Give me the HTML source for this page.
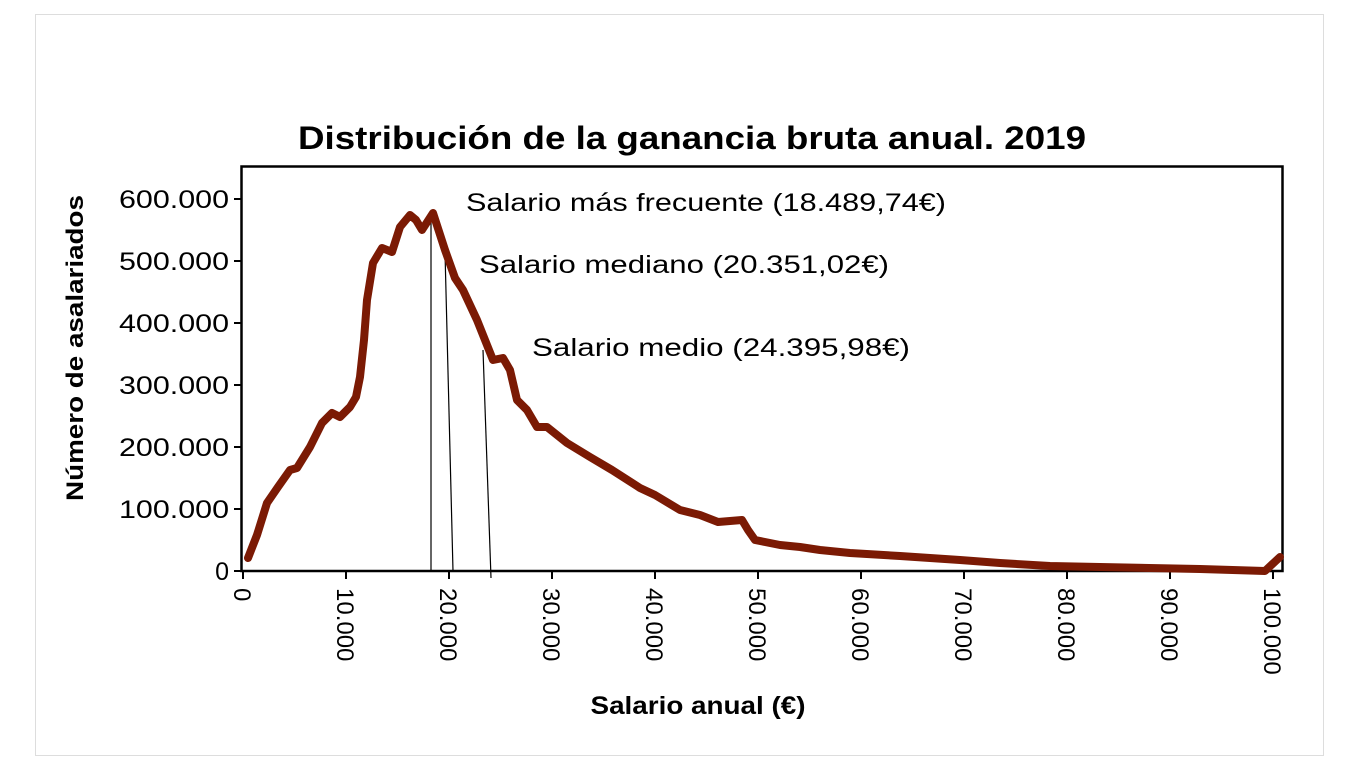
<!DOCTYPE html>
<html><head><meta charset="utf-8"><style>
body{margin:0;background:#fff;}
svg{display:block;font-family:"Liberation Sans",sans-serif;}
</style></head><body>
<svg width="1366" height="782" viewBox="0 0 1366 782">
<rect x="35.5" y="14.5" width="1288" height="741" fill="#fff" stroke="#ddd" stroke-width="1"/>
<text x="692" y="149" text-anchor="middle" font-size="32" font-weight="bold" textLength="788" lengthAdjust="spacingAndGlyphs">Distribución de la ganancia bruta anual. 2019</text>
<rect x="241.5" y="166.5" width="1041" height="404.5" fill="none" stroke="#000" stroke-width="2.5"/>
<g stroke="#000" stroke-width="2">
<line x1="234" y1="571" x2="242" y2="571"/><line x1="234" y1="509" x2="242" y2="509"/><line x1="234" y1="447" x2="242" y2="447"/><line x1="234" y1="385" x2="242" y2="385"/><line x1="234" y1="323" x2="242" y2="323"/><line x1="234" y1="261" x2="242" y2="261"/><line x1="234" y1="199" x2="242" y2="199"/>
<line x1="243" y1="571" x2="243" y2="579"/><line x1="346" y1="571" x2="346" y2="579"/><line x1="449" y1="571" x2="449" y2="579"/><line x1="552" y1="571" x2="552" y2="579"/><line x1="655" y1="571" x2="655" y2="579"/><line x1="758" y1="571" x2="758" y2="579"/><line x1="861" y1="571" x2="861" y2="579"/><line x1="964" y1="571" x2="964" y2="579"/><line x1="1067" y1="571" x2="1067" y2="579"/><line x1="1170" y1="571" x2="1170" y2="579"/><line x1="1273" y1="571" x2="1273" y2="579"/>
</g>
<g font-size="25" text-anchor="end">
<text x="229" y="580">0</text>
<text x="229" y="518" textLength="110" lengthAdjust="spacingAndGlyphs">100.000</text>
<text x="229" y="456" textLength="110" lengthAdjust="spacingAndGlyphs">200.000</text>
<text x="229" y="394" textLength="110" lengthAdjust="spacingAndGlyphs">300.000</text>
<text x="229" y="332" textLength="110" lengthAdjust="spacingAndGlyphs">400.000</text>
<text x="229" y="270" textLength="110" lengthAdjust="spacingAndGlyphs">500.000</text>
<text x="229" y="208" textLength="110" lengthAdjust="spacingAndGlyphs">600.000</text>
</g>
<g font-size="24">
<text transform="translate(234,588) rotate(90)">0</text>
<text transform="translate(337,588) rotate(90)">10.000</text>
<text transform="translate(440,588) rotate(90)">20.000</text>
<text transform="translate(543,588) rotate(90)">30.000</text>
<text transform="translate(646,588) rotate(90)">40.000</text>
<text transform="translate(749,588) rotate(90)">50.000</text>
<text transform="translate(852,588) rotate(90)">60.000</text>
<text transform="translate(955,588) rotate(90)">70.000</text>
<text transform="translate(1058,588) rotate(90)">80.000</text>
<text transform="translate(1161,588) rotate(90)">90.000</text>
<text transform="translate(1264,588) rotate(90)">100.000</text>
</g>
<text x="698" y="714" text-anchor="middle" font-size="25" font-weight="bold" textLength="215" lengthAdjust="spacingAndGlyphs">Salario anual (€)</text>
<text transform="translate(83,348) rotate(-90)" text-anchor="middle" font-size="24" font-weight="bold" textLength="306" lengthAdjust="spacingAndGlyphs">Número de asalariados</text>
<g stroke="#000" stroke-width="1.2">
<line x1="431" y1="213" x2="431" y2="571"/>
<line x1="445" y1="252" x2="453" y2="571"/>
<line x1="483" y1="350" x2="491" y2="578"/>
</g>
<path fill="none" stroke="#7b1a04" stroke-width="8" stroke-linejoin="round" stroke-linecap="round"
d="M248,558 L257,535 L267,503 L278,487 L290,470 L297,468 L310,447 L322,423 L332,413 L340,417 L350,407 L356,397 L360,377 L364,340 L367,300 L373,263 L382,248 L392,252 L400,227 L410,215 L416,220 L422,230 L433,213 L445,250 L455,278 L463,290 L477,320 L493,360 L503,358 L510,370 L517,400 L527,410 L537,427 L547,427 L567,443 L590,457 L612,470 L640,488 L655,495 L680,510 L700,515 L718,522 L730,521 L742,520 L748,530 L755,540 L765,542 L780,545 L800,547 L820,550 L850,553 L900,556 L960,560 L1000,563 L1050,566 L1100,567 L1200,569 L1265,571 L1280,557"/>
<g font-size="25">
<text x="466" y="211" textLength="480" lengthAdjust="spacingAndGlyphs">Salario más frecuente (18.489,74€)</text>
<text x="479" y="273" textLength="410" lengthAdjust="spacingAndGlyphs">Salario mediano (20.351,02€)</text>
<text x="532" y="356" textLength="378" lengthAdjust="spacingAndGlyphs">Salario medio (24.395,98€)</text>
</g>
</svg>
</body></html>
